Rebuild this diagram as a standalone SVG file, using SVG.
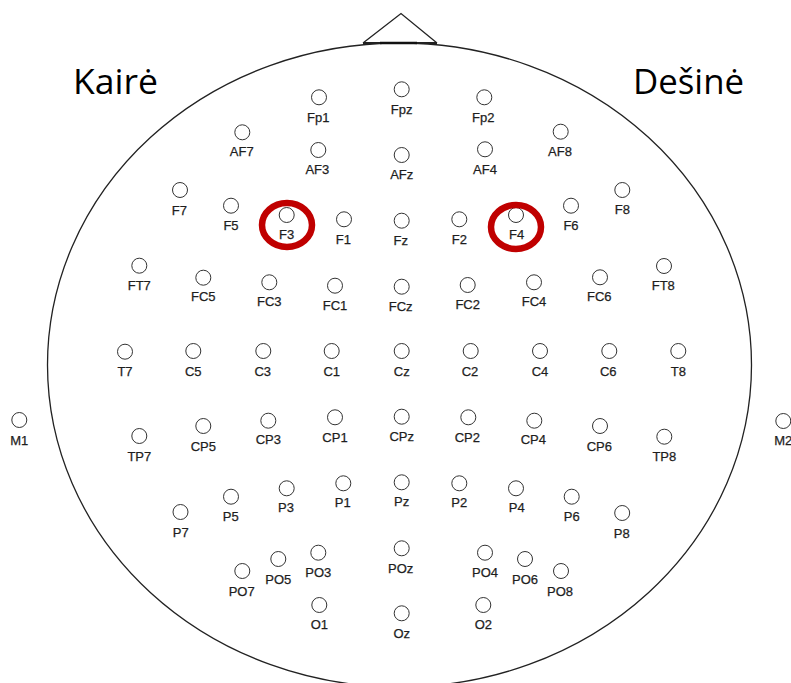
<svg xmlns="http://www.w3.org/2000/svg" width="791" height="683" viewBox="0 0 791 683">
<style>
.head{fill:none;stroke:#222;stroke-width:1.3}
.nose{fill:none;stroke:#222;stroke-width:1.3;stroke-linejoin:miter}
.el circle{fill:#fff;stroke:#333;stroke-width:1}
.el text{font-family:"Liberation Sans",Arial,sans-serif;font-size:13px;fill:#1e1e1e;stroke:#1e1e1e;stroke-width:0.25;text-anchor:middle}
.side{font-family:"Open Sans","Liberation Sans",sans-serif;font-size:34px;fill:#000}
.ring{fill:none;stroke:#c00000;stroke-width:6.5}
</style>
<rect width="791" height="683" fill="#fff"/>
<g id="head">
<ellipse class="head" cx="399.5" cy="365" rx="352" ry="322"/>
<polyline class="nose" points="363,43 401,13.5 437,43"/>
<line x1="363" y1="43" x2="437" y2="43" stroke="#222" stroke-width="1.8"/>
<line x1="380" y1="43" x2="417" y2="43" stroke="#111" stroke-width="2.4"/>
</g>
<text id="kaire" class="side" x="73" y="94" textLength="85" lengthAdjust="spacingAndGlyphs">Kairė</text>
<text id="desine" class="side" x="633" y="94" textLength="111" lengthAdjust="spacingAndGlyphs">Dešinė</text>
<g id="electrodes">
<g id="Fp1" class="el"><circle cx="319" cy="97.3" r="7.5"/><text x="318.3" y="122.4">Fp1</text></g>
<g id="Fpz" class="el"><circle cx="401.7" cy="89.3" r="7.5"/><text x="401.7" y="114">Fpz</text></g>
<g id="Fp2" class="el"><circle cx="484.3" cy="97.3" r="7.5"/><text x="483.3" y="122">Fp2</text></g>
<g id="AF7" class="el"><circle cx="242.3" cy="132.3" r="7.5"/><text x="241.7" y="156.4">AF7</text></g>
<g id="AF3" class="el"><circle cx="318.3" cy="150" r="7.5"/><text x="317.3" y="174">AF3</text></g>
<g id="AFz" class="el"><circle cx="401.7" cy="155" r="7.5"/><text x="401.7" y="179">AFz</text></g>
<g id="AF4" class="el"><circle cx="485" cy="149.3" r="7.5"/><text x="485" y="174">AF4</text></g>
<g id="AF8" class="el"><circle cx="560.7" cy="131.7" r="7.5"/><text x="560" y="156.4">AF8</text></g>
<g id="F7" class="el"><circle cx="180" cy="190" r="7.5"/><text x="179.3" y="214.7">F7</text></g>
<g id="F5" class="el"><circle cx="231" cy="205.7" r="7.5"/><text x="231" y="230.4">F5</text></g>
<g id="F3" class="el"><circle cx="286.7" cy="215" r="7.5"/><text x="286.7" y="238.7">F3</text></g>
<g id="F1" class="el"><circle cx="344" cy="219.3" r="7.5"/><text x="343.3" y="243.7">F1</text></g>
<g id="Fz" class="el"><circle cx="401.7" cy="220.7" r="7.5"/><text x="400.7" y="244.7">Fz</text></g>
<g id="F2" class="el"><circle cx="459.3" cy="219.3" r="7.5"/><text x="459.3" y="243.7">F2</text></g>
<g id="F4" class="el"><circle cx="516" cy="215" r="7.5"/><text x="516.7" y="238.7">F4</text></g>
<g id="F6" class="el"><circle cx="571" cy="205.7" r="7.5"/><text x="571" y="230.4">F6</text></g>
<g id="F8" class="el"><circle cx="622.3" cy="190" r="7.5"/><text x="622.3" y="214">F8</text></g>
<g id="FT7" class="el"><circle cx="139.3" cy="265.7" r="7.5"/><text x="139.3" y="289.7">FT7</text></g>
<g id="FC5" class="el"><circle cx="203.3" cy="277.7" r="7.5"/><text x="203.3" y="300.7">FC5</text></g>
<g id="FC3" class="el"><circle cx="269.3" cy="282.3" r="7.5"/><text x="269.3" y="306.4">FC3</text></g>
<g id="FC1" class="el"><circle cx="335" cy="285.7" r="7.5"/><text x="335" y="309.7">FC1</text></g>
<g id="FCz" class="el"><circle cx="401.7" cy="286.7" r="7.5"/><text x="400.7" y="310.7">FCz</text></g>
<g id="FC2" class="el"><circle cx="467.7" cy="285" r="7.5"/><text x="467.7" y="309">FC2</text></g>
<g id="FC4" class="el"><circle cx="534" cy="282.3" r="7.5"/><text x="534" y="306.4">FC4</text></g>
<g id="FC6" class="el"><circle cx="600" cy="277.3" r="7.5"/><text x="599.3" y="301.4">FC6</text></g>
<g id="FT8" class="el"><circle cx="664" cy="266" r="7.5"/><text x="663.3" y="289.7">FT8</text></g>
<g id="T7" class="el"><circle cx="125" cy="351.7" r="7.5"/><text x="125" y="375.7">T7</text></g>
<g id="C5" class="el"><circle cx="193.3" cy="351" r="7.5"/><text x="193.3" y="375.7">C5</text></g>
<g id="C3" class="el"><circle cx="263.3" cy="351" r="7.5"/><text x="262.7" y="375.7">C3</text></g>
<g id="C1" class="el"><circle cx="331.7" cy="351" r="7.5"/><text x="331.7" y="375.7">C1</text></g>
<g id="Cz" class="el"><circle cx="401.7" cy="351" r="7.5"/><text x="401.7" y="375.7">Cz</text></g>
<g id="C2" class="el"><circle cx="470.7" cy="351" r="7.5"/><text x="470" y="375.7">C2</text></g>
<g id="C4" class="el"><circle cx="540" cy="351" r="7.5"/><text x="540" y="375.7">C4</text></g>
<g id="C6" class="el"><circle cx="609.3" cy="351" r="7.5"/><text x="608.3" y="375.7">C6</text></g>
<g id="T8" class="el"><circle cx="678.3" cy="351" r="7.5"/><text x="678.3" y="375.7">T8</text></g>
<g id="M1" class="el"><circle cx="19.3" cy="420" r="7.5"/><text x="19.3" y="444.7">M1</text></g>
<g id="TP7" class="el"><circle cx="139.3" cy="436" r="7.5"/><text x="139.3" y="460.7">TP7</text></g>
<g id="CP5" class="el"><circle cx="203.3" cy="426" r="7.5"/><text x="203.3" y="450.7">CP5</text></g>
<g id="CP3" class="el"><circle cx="268.3" cy="420.7" r="7.5"/><text x="268.3" y="444">CP3</text></g>
<g id="CP1" class="el"><circle cx="335" cy="417.3" r="7.5"/><text x="335" y="442">CP1</text></g>
<g id="CPz" class="el"><circle cx="401.7" cy="416.7" r="7.5"/><text x="401.7" y="441.4">CPz</text></g>
<g id="CP2" class="el"><circle cx="468.3" cy="417.3" r="7.5"/><text x="467.3" y="442">CP2</text></g>
<g id="CP4" class="el"><circle cx="534.3" cy="420.7" r="7.5"/><text x="533.3" y="444">CP4</text></g>
<g id="CP6" class="el"><circle cx="600" cy="426" r="7.5"/><text x="599.3" y="450.7">CP6</text></g>
<g id="TP8" class="el"><circle cx="664.3" cy="436.7" r="7.5"/><text x="664.3" y="461.4">TP8</text></g>
<g id="M2" class="el"><circle cx="783.3" cy="421" r="7.5"/><text x="783.3" y="445.4">M2</text></g>
<g id="P7" class="el"><circle cx="180.5" cy="512" r="7.5"/><text x="180.7" y="537">P7</text></g>
<g id="P5" class="el"><circle cx="231" cy="496.7" r="7.5"/><text x="230.7" y="520.7">P5</text></g>
<g id="P3" class="el"><circle cx="286.7" cy="488.3" r="7.5"/><text x="286" y="512.4">P3</text></g>
<g id="P1" class="el"><circle cx="343.3" cy="483.3" r="7.5"/><text x="342.7" y="507.4">P1</text></g>
<g id="Pz" class="el"><circle cx="401.7" cy="482.3" r="7.5"/><text x="401.7" y="506.4">Pz</text></g>
<g id="P2" class="el"><circle cx="459.3" cy="483.3" r="7.5"/><text x="459.3" y="507.4">P2</text></g>
<g id="P4" class="el"><circle cx="516" cy="488.3" r="7.5"/><text x="516.7" y="512.4">P4</text></g>
<g id="P6" class="el"><circle cx="571.7" cy="496.7" r="7.5"/><text x="571.7" y="520.7">P6</text></g>
<g id="P8" class="el"><circle cx="622.2" cy="513" r="7.5"/><text x="621.7" y="538">P8</text></g>
<g id="PO7" class="el"><circle cx="242.3" cy="571" r="7.5"/><text x="241.7" y="595.7">PO7</text></g>
<g id="PO5" class="el"><circle cx="278.3" cy="559" r="7.5"/><text x="278.3" y="584">PO5</text></g>
<g id="PO3" class="el"><circle cx="318.3" cy="552.7" r="7.5"/><text x="318.3" y="577.4">PO3</text></g>
<g id="POz" class="el"><circle cx="401.7" cy="548.3" r="7.5"/><text x="400.7" y="573">POz</text></g>
<g id="PO4" class="el"><circle cx="485" cy="552.7" r="7.5"/><text x="485" y="577.4">PO4</text></g>
<g id="PO6" class="el"><circle cx="525" cy="559" r="7.5"/><text x="525" y="584">PO6</text></g>
<g id="PO8" class="el"><circle cx="561" cy="571" r="7.5"/><text x="560" y="595.7">PO8</text></g>
<g id="O1" class="el"><circle cx="319.3" cy="605" r="7.5"/><text x="319.3" y="629">O1</text></g>
<g id="Oz" class="el"><circle cx="401.7" cy="613.3" r="7.5"/><text x="401.7" y="638">Oz</text></g>
<g id="O2" class="el"><circle cx="483.3" cy="605" r="7.5"/><text x="483.3" y="629">O2</text></g>
</g>
<g id="highlights">
<ellipse id="ring-F3" class="ring" cx="287" cy="225" rx="25" ry="22"/>
<ellipse id="ring-F4" class="ring" cx="516" cy="227" rx="25" ry="22"/>
</g>
</svg>
